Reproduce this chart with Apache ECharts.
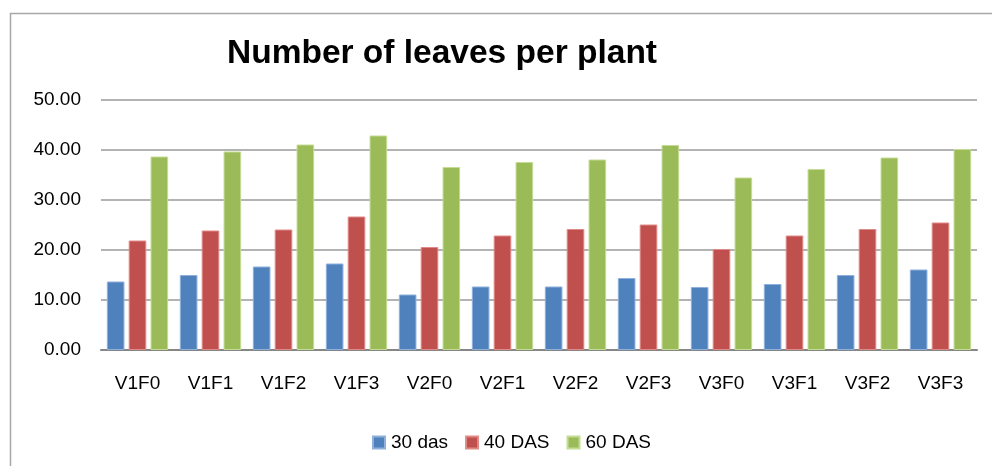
<!DOCTYPE html>
<html><head><meta charset="utf-8">
<script src="https://cdn.jsdelivr.net/npm/echarts@6/dist/echarts.min.js"></script>
<style>html,body{margin:0;padding:0;background:#fff}#c{width:992px;height:466px}</style>
</head><body><div id="c"></div>
<script>
const categories = ['V1F0','V1F1','V1F2','V1F3','V2F0','V2F1','V2F2','V2F3','V3F0','V3F1','V3F2','V3F3'];
const das30 = [13.7, 15.0, 16.7, 17.3, 11.1, 12.7, 12.7, 14.4, 12.6, 13.2, 15.0, 16.1];
const das40 = [21.9, 23.9, 24.1, 26.7, 20.6, 22.9, 24.2, 25.1, 20.2, 22.9, 24.2, 25.5];
const das60 = [38.7, 39.7, 41.1, 42.9, 36.6, 37.6, 38.1, 41.0, 34.5, 36.2, 38.5, 40.2];
const seriesNames = ['30 das', '40 DAS', '60 DAS'];
const colors = ['#4F81BD', '#C0504D', '#9BBB59'];
const borders = ['#8fb0dc', '#e08a88', '#c4dc94'];

const font = 'Liberation Sans, Arial, sans-serif';
const chart = echarts.init(document.getElementById('c'), null, {renderer: 'canvas'});
const data = [das30, das40, das60];
chart.setOption({
  animation: false,
  backgroundColor: '#fff',
  graphic: [{
    type: 'rect', left: 8, top: 11, shape: {x: 0, y: 0, width: 1100, height: 600},
    style: {fill: 'none', stroke: '#a6a6a6', lineWidth: 1.5}, z: -1
  }],
  title: {
    text: 'Number of leaves per plant', left: 437, top: 32, textAlign: 'center',
    textStyle: {fontFamily: font, fontWeight: 'bold', fontSize: 33.5, color: '#000'}
  },
  legend: {
    top: 428, left: 367, itemWidth: 12, itemHeight: 12, itemGap: 17,
    icon: 'rect',
    textStyle: {fontFamily: font, fontSize: 19, color: '#000', padding: [0, 0, 0, 1]},
    data: seriesNames
  },
  grid: {left: 101, right: 15, top: 100, bottom: 116, containLabel: false},
  xAxis: {
    type: 'category', data: categories,
    axisLine: {lineStyle: {color: '#868686', width: 2}},
    axisTick: {show: false},
    axisLabel: {fontFamily: font, fontSize: 19, color: '#000', margin: 24}
  },
  yAxis: {
    type: 'value', min: 0, max: 50, interval: 10,
    axisLine: {show: false}, axisTick: {show: false},
    axisLabel: {fontFamily: font, fontSize: 19, color: '#000', margin: 20,
      formatter: v => v.toFixed(2)},
    splitLine: {lineStyle: {color: '#9a9a9a', width: 1.5}}
  },
  series: seriesNames.map((n, i) => ({
    name: n, type: 'bar', data: data[i],
    barGap: '24%', barCategoryGap: '16%',
    itemStyle: {color: colors[i], borderColor: borders[i], borderWidth: 1}
  }))
});
</script></body></html>
